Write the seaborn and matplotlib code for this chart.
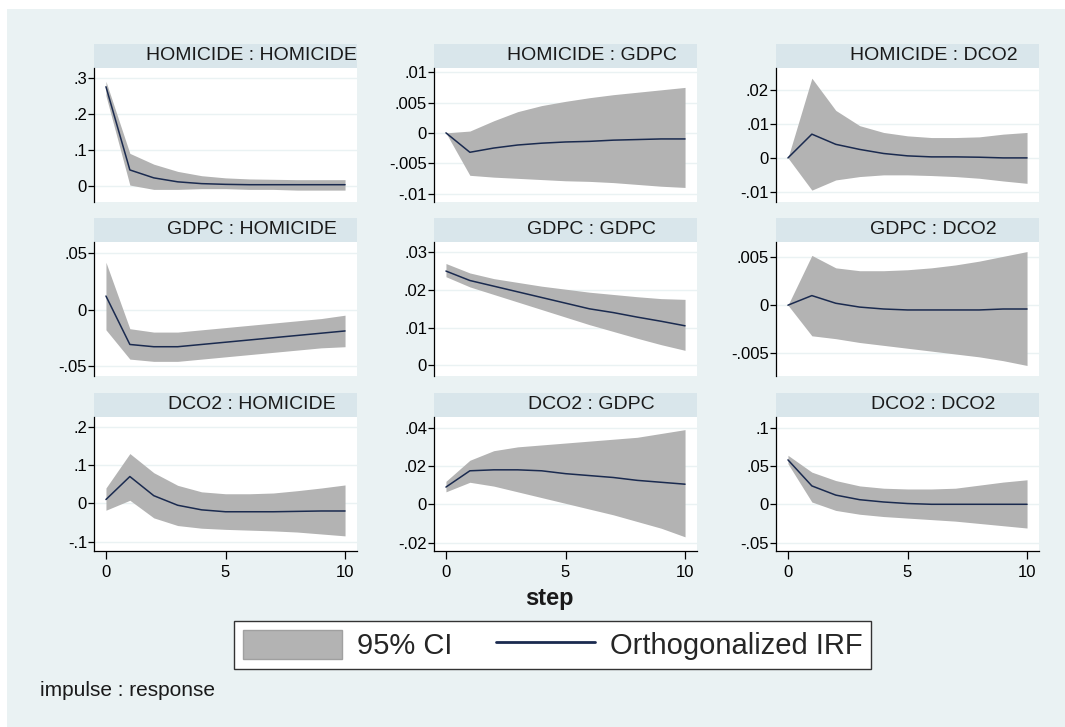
import numpy as np
import pandas as pd
import matplotlib
matplotlib.use("Agg")
import matplotlib.pyplot as plt
import seaborn as sns
from matplotlib.patches import Rectangle, Patch
from matplotlib.lines import Line2D

# steps of the impulse response
steps = list(range(11))

# impulse : response panels
hh_irf = [0.275, 0.044, 0.022, 0.011, 0.006, 0.004, 0.003, 0.003, 0.003, 0.003, 0.003]
hh_hi = [0.29, 0.09, 0.06, 0.04, 0.028, 0.022, 0.019, 0.018, 0.017, 0.017, 0.017]
hh_lo = [0.25, 0.002, -0.01, -0.01, -0.008, -0.008, -0.01, -0.01, -0.012, -0.012, -0.012]

hg_irf = [0.0, -0.0032, -0.0025, -0.002, -0.0017, -0.0015, -0.0014, -0.0012, -0.0011, -0.0010, -0.0010]
hg_hi = [0.0, 0.0003, 0.002, 0.0035, 0.0045, 0.0052, 0.0058, 0.0063, 0.0067, 0.0071, 0.0075]
hg_lo = [0.0, -0.007, -0.0073, -0.0075, -0.0077, -0.0079, -0.008, -0.0082, -0.0085, -0.0088, -0.009]

hd_irf = [0.0, 0.007, 0.004, 0.0025, 0.0013, 0.0006, 0.0003, 0.0003, 0.0002, 0.0, 0.0]
hd_hi = [0.0, 0.0235, 0.014, 0.0095, 0.0075, 0.0065, 0.006, 0.006, 0.0062, 0.007, 0.0075]
hd_lo = [0.0, -0.0095, -0.0065, -0.0055, -0.005, -0.005, -0.0052, -0.0055, -0.006, -0.0068, -0.0075]

gh_irf = [0.012, -0.031, -0.033, -0.033, -0.031, -0.029, -0.027, -0.025, -0.023, -0.021, -0.019]
gh_hi = [0.042, -0.017, -0.02, -0.02, -0.018, -0.016, -0.014, -0.012, -0.01, -0.008, -0.005]
gh_lo = [-0.018, -0.044, -0.046, -0.046, -0.044, -0.042, -0.04, -0.038, -0.036, -0.034, -0.033]

gg_irf = [0.025, 0.0225, 0.021, 0.0195, 0.018, 0.0165, 0.015, 0.014, 0.0128, 0.0117, 0.0105]
gg_hi = [0.027, 0.0245, 0.023, 0.022, 0.021, 0.0202, 0.0194, 0.0188, 0.0182, 0.0177, 0.0175]
gg_lo = [0.0235, 0.0208, 0.0188, 0.0168, 0.0148, 0.0128, 0.0108, 0.009, 0.0072, 0.0055, 0.004]

gd_irf = [0.0, 0.001, 0.0002, -0.0002, -0.0004, -0.0005, -0.0005, -0.0005, -0.0005, -0.0004, -0.0004]
gd_hi = [0.0, 0.0052, 0.0039, 0.0036, 0.0036, 0.0037, 0.0039, 0.0042, 0.0046, 0.0051, 0.0056]
gd_lo = [0.0, -0.0032, -0.0035, -0.0039, -0.0042, -0.0045, -0.0048, -0.0051, -0.0054, -0.0058, -0.0063]

dh_irf = [0.01, 0.07, 0.02, -0.005, -0.017, -0.022, -0.022, -0.022, -0.021, -0.02, -0.02]
dh_hi = [0.04, 0.13, 0.08, 0.047, 0.03, 0.025, 0.025, 0.027, 0.033, 0.04, 0.048]
dh_lo = [-0.018, 0.008, -0.038, -0.058, -0.065, -0.068, -0.07, -0.072, -0.075, -0.08, -0.085]

dg_irf = [0.009, 0.0175, 0.018, 0.018, 0.0175, 0.016, 0.015, 0.014, 0.0125, 0.0115, 0.0105]
dg_hi = [0.012, 0.023, 0.028, 0.03, 0.031, 0.032, 0.033, 0.034, 0.035, 0.037, 0.039]
dg_lo = [0.0065, 0.0115, 0.0095, 0.0065, 0.0035, 0.0005, -0.0025, -0.0055, -0.009, -0.0125, -0.017]

dd_irf = [0.058, 0.024, 0.012, 0.006, 0.003, 0.001, 0.0, 0.0, 0.0, 0.0, 0.0]
dd_hi = [0.064, 0.042, 0.031, 0.024, 0.021, 0.02, 0.02, 0.021, 0.025, 0.029, 0.032]
dd_lo = [0.053, 0.003, -0.008, -0.013, -0.016, -0.018, -0.02, -0.022, -0.025, -0.028, -0.031]

titles = ["HOMICIDE : HOMICIDE", "HOMICIDE : GDPC", "HOMICIDE : DCO2",
          "GDPC : HOMICIDE", "GDPC : GDPC", "GDPC : DCO2",
          "DCO2 : HOMICIDE", "DCO2 : GDPC", "DCO2 : DCO2"]
yticks = [[0, .1, .2, .3], [-.01, -.005, 0, .005, .01], [-.01, 0, .01, .02],
          [-.05, 0, .05], [0, .01, .02, .03], [-.005, 0, .005],
          [-.1, 0, .1, .2], [-.02, 0, .02, .04], [-.05, 0, .05, .1]]
ylims = [(-0.045, 0.327), (-0.0114, 0.0107), (-0.013, 0.0265),
         (-0.059, 0.060), (-0.0028, 0.0327), (-0.0074, 0.0066),
         (-0.1245, 0.2255), (-0.0244, 0.0456), (-0.061, 0.114)]
panels = [(hh_irf, hh_lo, hh_hi), (hg_irf, hg_lo, hg_hi), (hd_irf, hd_lo, hd_hi),
          (gh_irf, gh_lo, gh_hi), (gg_irf, gg_lo, gg_hi), (gd_irf, gd_lo, gd_hi),
          (dh_irf, dh_lo, dh_hi), (dg_irf, dg_lo, dg_hi), (dd_irf, dd_lo, dd_hi)]

sns.set_style("white")
plt.rcParams['font.family'] = ['Liberation Sans', 'DejaVu Sans']

BG = '#eaf2f3'
STRIP = '#d9e6eb'
BAND = '#b3b3b3'
NAVY = '#1a2a4f'

W, H = 1065, 727
fig = plt.figure(figsize=(W / 100, H / 100), dpi=100, facecolor='white')
fig.patches.append(Rectangle((7 / W, 0), 1, 1 - 9 / H, transform=fig.transFigure,
                             facecolor=BG, edgecolor='none', zorder=-10))


def stata_fmt(v):
    s = f"{v:g}"
    return s.replace("0.", ".")


col_left = [94, 434, 776]
row_top = [68, 242, 417]
aw, ah = 263, 134

for i, (title, (irf, lo, hi)) in enumerate(zip(titles, panels)):
    r, c = divmod(i, 3)
    ax = fig.add_axes([col_left[c] / W, 1 - (row_top[r] + ah) / H, aw / W, ah / H])
    ax.set_facecolor('white')
    df = pd.DataFrame({'step': steps, 'irf': irf, 'lo': lo, 'hi': hi})
    ax.fill_between(df['step'], df['lo'], df['hi'], color=BAND, lw=0, zorder=2)
    sns.lineplot(data=df, x='step', y='irf', ax=ax, color=NAVY, lw=1.1, zorder=3)
    ax.set_xlim(-0.5, 10.5)
    ax.set_ylim(*ylims[i])
    ax.set_yticks(yticks[i])
    ax.set_yticklabels([stata_fmt(v) for v in yticks[i]])
    ax.yaxis.grid(True, color=BG, lw=1)
    ax.set_axisbelow(True)
    ax.set_xlabel('')
    ax.set_ylabel('')
    for s in ['top', 'right']:
        ax.spines[s].set_visible(False)
    ax.spines['left'].set_color('black')
    ax.spines['left'].set_linewidth(0.9)
    ax.tick_params(axis='y', length=4, width=0.9, pad=1, labelsize=12,
                   direction='out', colors='black', left=True)
    if r == 2:
        ax.spines['bottom'].set_color('black')
        ax.spines['bottom'].set_linewidth(0.9)
        ax.set_xticks([0, 5, 10])
        ax.tick_params(axis='x', length=6, width=0.9, pad=4, labelsize=12,
                       direction='out', colors='black', bottom=True)
    else:
        ax.spines['bottom'].set_visible(False)
        ax.set_xticks([])
    # strip title above each panel
    sh = 24 / ah
    ax.add_patch(Rectangle((0, 1), 1, sh, transform=ax.transAxes, clip_on=False,
                           facecolor=STRIP, edgecolor='none'))
    ax.text(0.5 + 26 / aw, 1 + sh / 2, title, transform=ax.transAxes,
            ha='center', va='center', fontsize=14, color='#1a1a1a')

fig.text(549 / W, 1 - 598 / H, 'step', ha='center', va='center',
         fontsize=17, fontweight='bold', color='#1a1a1a')

handles = [Patch(facecolor=BAND, edgecolor='#a0a0a0', lw=1),
           Line2D([], [], color=NAVY, lw=2)]
leg = fig.legend(handles, ['95% CI', 'Orthogonalized IRF'], ncol=2, loc='center',
                 bbox_to_anchor=(552.5 / W, 1 - 645 / H), frameon=True,
                 fancybox=False, edgecolor='#333333', framealpha=1, fontsize=21,
                 handlelength=3.4, handleheight=1.15, columnspacing=1.5,
                 handletextpad=0.5, borderpad=0.3)
leg.get_frame().set_linewidth(1)

fig.text(40 / W, 1 - 690 / H, 'impulse : response', ha='left', va='center',
         fontsize=15, color='#1a1a1a')

fig.savefig('out.png', dpi=100, facecolor='white')
